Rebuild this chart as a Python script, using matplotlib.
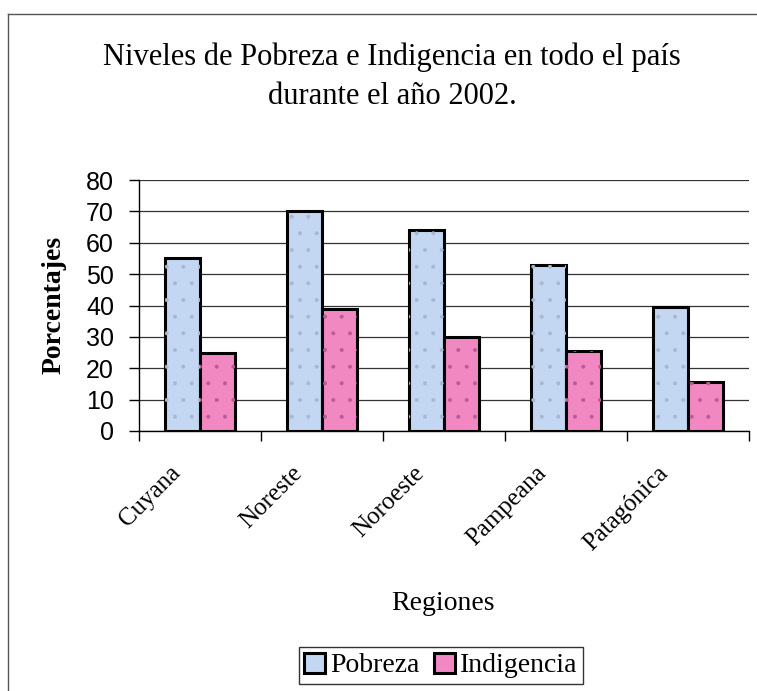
import matplotlib
matplotlib.use("Agg")
import matplotlib.pyplot as plt
import numpy as np
from matplotlib.lines import Line2D
from matplotlib.transforms import ScaledTranslation

# ---- data ----
categories = ["Cuyana", "Noreste", "Noroeste", "Pampeana", "Patagónica"]
pobreza = [55, 70, 64, 53, 39.5]
indigencia = [25, 39, 30, 25.5, 15.7]
series_names = ["Pobreza", "Indigencia"]
yticks = [0, 10, 20, 30, 40, 50, 60, 70, 80]
title = "Niveles de Pobreza e Indigencia en todo el país\ndurante el año 2002."
xlabel = "Regiones"
ylabel = "Porcentajes"

SERIF = "Liberation Serif"
SANS = "Liberation Sans"

plt.rcParams["hatch.linewidth"] = 0.4

W, H = 757, 691
fig = plt.figure(figsize=(W / 100, H / 100), dpi=100)
fig.patch.set_facecolor("white")

# outer chart frame (top and left visible)
fig.add_artist(Line2D([8 / W, 1.0], [1 - 14 / H, 1 - 14 / H], transform=fig.transFigure,
                      color="#555555", lw=1.0))
fig.add_artist(Line2D([8 / W, 8 / W], [1 - 14 / H, 0.0], transform=fig.transFigure,
                      color="#555555", lw=1.0))

L, R, T, B = 139, 749, 180, 431
ax = fig.add_axes([L / W, 1 - B / H, (R - L) / W, (B - T) / H])

x = np.arange(len(categories))
bw = 0.29
ax.bar(x - bw / 2, pobreza, bw, color="#c3d6f2", edgecolor="black", linewidth=2.2,
       zorder=3, label=series_names[0])
ax.bar(x + bw / 2, indigencia, bw, color="#f288c2", edgecolor="black", linewidth=2.2,
       zorder=3, label=series_names[1])
# light dotted texture
ax.bar(x - bw / 2, pobreza, bw, fill=False, hatch=".", edgecolor="#a9b6cf", linewidth=0,
       zorder=3.5)
ax.bar(x + bw / 2, indigencia, bw, fill=False, hatch=".", edgecolor="#b85c93", linewidth=0,
       zorder=3.5)

ax.set_xlim(-0.5, len(categories) - 0.5)
ax.set_ylim(0, 80)
ax.set_yticks(yticks)
ax.set_yticklabels([str(v) for v in yticks], fontfamily=SANS, fontsize=18)
ax.yaxis.grid(True, color="#333333", lw=0.9, zorder=0)
ax.set_axisbelow(True)

# category boundaries get tick marks; category names are placed as rotated texts
ax.set_xticks(np.arange(-0.5, len(categories)))
ax.set_xticklabels([])
ax.tick_params(axis="x", length=7, width=1, color="black", direction="out")
ax.tick_params(axis="y", length=7, width=1, direction="out", pad=11)
lab_tr = ax.get_xaxis_transform() + ScaledTranslation(-19 / 100, -43 / 100, fig.dpi_scale_trans)
for i, name in enumerate(categories):
    ax.text(i, 0, name, transform=lab_tr, rotation=45, ha="right", va="baseline",
            rotation_mode="anchor", fontfamily=SERIF, fontsize=18)

for s in ["top", "right"]:
    ax.spines[s].set_visible(False)
ax.spines["left"].set_linewidth(1.0)
ax.spines["bottom"].set_linewidth(1.0)

fig.text(54 / W, 1 - 305 / H, ylabel, rotation=90, ha="center", va="center",
         fontfamily=SERIF, fontweight="bold", fontsize=20)
fig.text(443 / W, 1 - 603 / H, xlabel, ha="center", va="center", fontfamily=SERIF, fontsize=20)
fig.text(392 / W, 1 - 77 / H, title, ha="center", va="center", fontfamily=SERIF, fontsize=22,
         linespacing=1.45)

leg = fig.legend(loc="upper center", bbox_to_anchor=(441 / W, 1 - 647 / H), ncol=2,
                 frameon=True, fancybox=False, edgecolor="black", borderaxespad=0,
                 prop={"family": SERIF, "size": 20}, handlelength=0.75, handleheight=0.75,
                 handletextpad=0.2, columnspacing=0.5, borderpad=0.2)
leg.get_frame().set_linewidth(1.0)

fig.savefig("out.png", dpi=100)
